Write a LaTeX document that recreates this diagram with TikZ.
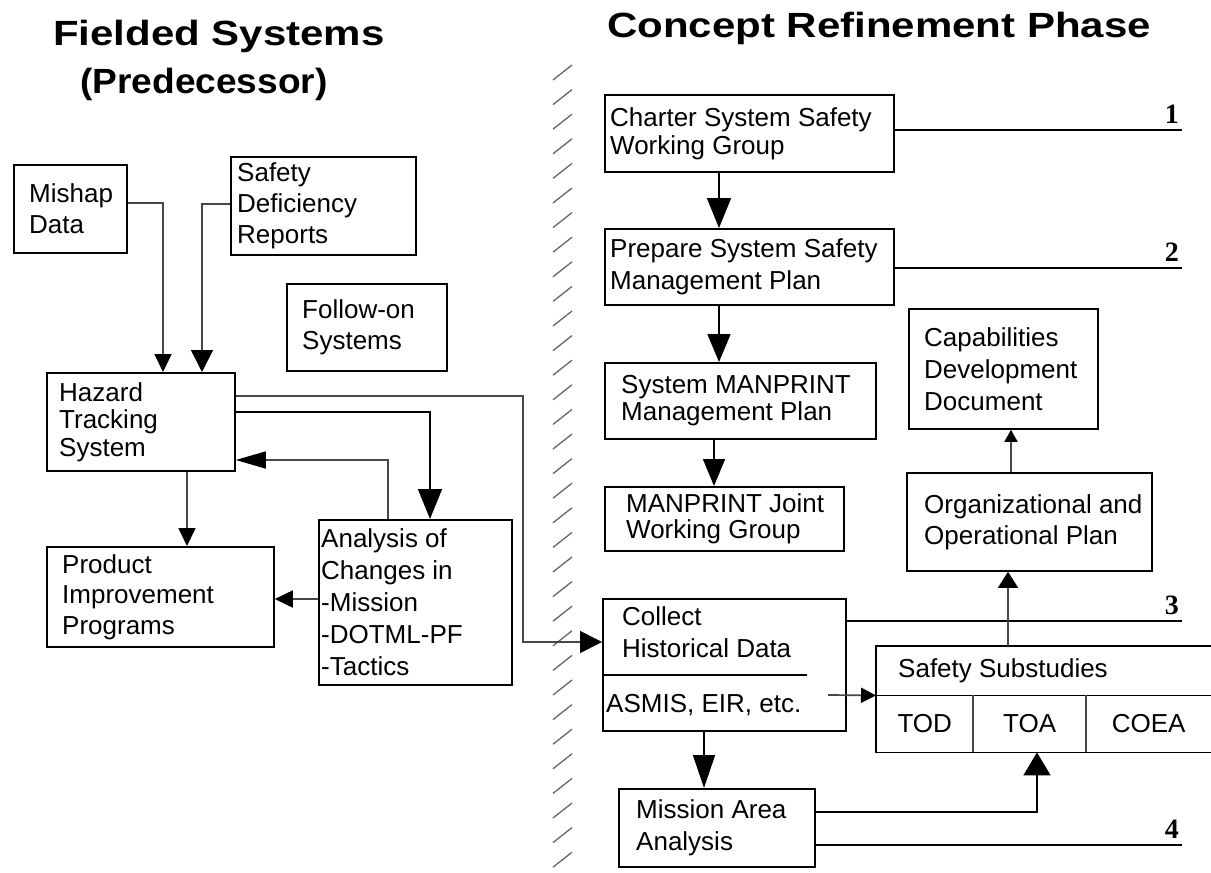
\documentclass[tikz,border=0pt]{standalone}
\usepackage{fontspec}
\setmainfont{Liberation Sans}
\newfontfamily\numfont{Liberation Serif}
\usepackage{graphicx}
\usetikzlibrary{arrows.meta}
\begin{document}
\begin{tikzpicture}[x=1pt,y=-1pt,
  box/.style={draw, line width=1.8pt, anchor=north west, inner sep=0pt},
  cell/.style={anchor=north west, inner sep=0pt, font=\fontsize{26}{31}\selectfont},
  txt/.style={anchor=west, align=left, inner sep=0pt, font=\fontsize{26}{31}\selectfont},
  ttl/.style={anchor=base west, inner sep=0pt, font=\fontsize{35}{40}\selectfont\bfseries},
  numst/.style={anchor=south east, inner sep=0pt, font=\fontsize{28}{30}\selectfont\numfont\bfseries},
  conn/.style={draw=black!72, line width=1.7pt},
  plain/.style={draw=black, line width=1.7pt},
  tipS/.style={-{Triangle[length=18pt,width=17pt,color=black]}},
  tipM/.style={-{Triangle[length=22pt,width=22pt,color=black]}},
  tipL/.style={-{Triangle[length=30pt,width=24pt,color=black]}},
  tipT/.style={-{Triangle[length=12pt,width=13pt,color=black]}},
  hatch/.style={draw=black!60, line width=1.3pt}]
\fill[white] (0,0) rectangle (1211,873);
\useasboundingbox (0,0) rectangle (1211,873);

% titles
\node[ttl] (titleA) at (53,45) {\scalebox{1.2}[1]{Fielded Systems}};
\node[ttl] (titleB) at (80,93) {\scalebox{1.06}[1]{(Predecessor)}};
\node[ttl] (titleC) at (607,37) {\scalebox{1.2}[1]{Concept Refinement Phase}};

% hatched divider
\foreach \i in {0,...,32} \draw[hatch] (553,{80+24.6*\i}) -- ++(19,-15);

% left boxes
\node[box, minimum width=113pt, minimum height=88pt] (mishap) at (13,164) {};
\node[txt] (mishapT) at ([xshift=16pt]mishap.west) {Mishap\\Data};
\node[box, minimum width=185pt, minimum height=98pt] (sdr) at (230,156) {};
\node[txt] (sdrT) at ([xshift=7pt]sdr.west) {Safety\\Deficiency\\Reports};
\node[box, minimum width=160pt, minimum height=87pt] (follow) at (286,283) {};
\node[txt] (followT) at ([xshift=16pt]follow.west) {Follow-on\\Systems};
\node[box, minimum width=188pt, minimum height=98pt] (hazard) at (46,372) {};
\node[txt, font=\fontsize{26}{27.5}\selectfont] (hazardT) at ([xshift=13pt]hazard.west) {Hazard\\Tracking\\System};
\node[box, minimum width=227pt, minimum height=100pt] (product) at (46,546) {};
\node[txt, font=\fontsize{26}{30.5}\selectfont] (productT) at ([xshift=16pt]product.west) {Product\\Improvement\\Programs};
\node[box, minimum width=193pt, minimum height=165pt] (analysis) at (318,519) {};
\node[txt, font=\fontsize{26}{32}\selectfont] (analysisT) at ([xshift=3pt]analysis.west) {Analysis of\\Changes in\\-Mission\\-DOTML-PF\\-Tactics};

% right boxes
\node[box, minimum width=289pt, minimum height=77pt] (charter) at (604,94) {};
\node[txt, font=\fontsize{26}{28}\selectfont] (charterT) at ([xshift=6pt]charter.west) {Charter System Safety\\Working Group};
\node[box, minimum width=289pt, minimum height=76pt] (prepare) at (604,228) {};
\node[txt, font=\fontsize{26}{32}\selectfont] (prepareT) at ([xshift=6pt]prepare.west) {Prepare System Safety\\Management Plan};
\node[box, minimum width=271pt, minimum height=76pt] (sysman) at (604,362) {};
\node[txt, font=\fontsize{26}{27}\selectfont] (sysmanT) at ([xshift=17pt]sysman.west) {System MANPRINT\\Management Plan};
\node[box, minimum width=239pt, minimum height=64pt] (mj) at (604,486) {};
\node[txt, font=\fontsize{26}{26}\selectfont] (mjT) at ([xshift=22pt]mj.west) {MANPRINT Joint\\Working Group};
\node[box, minimum width=189pt, minimum height=120pt] (cap) at (908,308) {};
\node[txt, font=\fontsize{26}{32}\selectfont] (capT) at ([xshift=16pt]cap.west) {Capabilities\\Development\\Document};
\node[box, minimum width=245pt, minimum height=98pt] (org) at (906,472) {};
\node[txt] (orgT) at ([xshift=18pt]org.west) {Organizational and\\Operational Plan};
\node[box, minimum width=243pt, minimum height=132pt] (collect) at (602,598) {};
\node[txt, font=\fontsize{26}{32}\selectfont] (collectT) at (622,632) {Collect\\Historical Data};
\node[txt] (asmis) at (606,705) {ASMIS, EIR, etc.};
\coordinate (cdiv) at (807,675);
\draw[plain] (collect.west |- cdiv) -- (cdiv);
\node[box, minimum width=196pt, minimum height=78pt] (mission) at (618,788) {};
\node[txt, font=\fontsize{26}{32}\selectfont] (missionT) at ([xshift=18pt]mission.west) {Mission Area\\Analysis};

% safety substudies
\node[cell, minimum width=335pt, minimum height=49pt] (sshead) at (876,646) {};
\node[txt] (ssT) at ([xshift=22pt]sshead.west) {Safety Substudies};
\node[cell, minimum width=97pt, minimum height=57pt] (tod) at (876,695) {TOD};
\node[cell, minimum width=113pt, minimum height=57pt] (toa) at (973,695) {TOA};
\node[cell, minimum width=125pt, minimum height=57pt] (coea) at (1086,695) {COEA};
\draw[plain, line width=1.8pt] (sshead.north east) -| (tod.south west) -- (coea.south east);
\draw[plain, line width=1.8pt] (sshead.south west) -- (sshead.south east);
\draw[conn, line width=2pt] (tod.north east) -- (tod.south east);
\draw[conn, line width=2pt] (toa.north east) -- (toa.south east);

% numbered lines
\coordinate (r1) at (1182,130);
\coordinate (r2) at (1182,268);
\coordinate (r3) at (1182,621);
\coordinate (r4) at (1182,845);
\draw[plain] (charter.east |- r1) -- (r1);
\draw[plain] (prepare.east |- r2) -- (r2);
\draw[plain] (collect.east |- r3) -- (r3);
\draw[plain] (mission.east |- r4) -- (r4);
\node[numst] (n1) at (1179,124) {1};
\node[numst] (n2) at (1179,262) {2};
\node[numst] (n3) at (1179,615) {3};
\node[numst] (n4) at (1179,839) {4};

% connectors, left side
\coordinate (m1) at (163,203);
\draw[conn, tipS] (mishap.east |- m1) -| (hazard.north -| m1);
\coordinate (s1) at (202,204);
\draw[conn, tipM] (sdr.west |- s1) -| (hazard.north -| s1);
\coordinate (c1) at (523,396);
\coordinate (c2) at (523,642);
\draw[conn, tipM] (hazard.east |- c1) -- (c1) -- (c2) -- (collect.west |- c2);
\coordinate (a1) at (430,412);
\draw[plain, tipL] (hazard.east |- a1) -| (analysis.north -| a1);
\coordinate (f1) at (388,460);
\draw[conn, -{Triangle[length=30pt,width=17pt,color=black]}] (analysis.north -| f1) |- (hazard.east |- f1);
\coordinate (p1) at (187,500);
\draw[conn, tipS] (hazard.south -| p1) -- (product.north -| p1);
\coordinate (q1) at (300,599);
\draw[conn, tipS] (analysis.west |- q1) -- (product.east |- q1);

% connectors, right side
\coordinate (k1) at (719,200);
\draw[plain, tipL] (charter.south -| k1) -- (prepare.north -| k1);
\draw[plain, -{Triangle[length=28pt,width=23pt]}] (prepare.south -| k1) -- (sysman.north -| k1);
\coordinate (k2) at (714,460);
\draw[plain, -{Triangle[length=27pt,width=22pt]}] (sysman.south -| k2) -- (mj.north -| k2);
\coordinate (k3) at (704,760);
\draw[plain, -{Triangle[length=33pt,width=22pt]}] (collect.south -| k3) -- (mission.north -| k3);
\coordinate (e1) at (828,695);
\draw[conn, -{Triangle[length=15pt,width=15pt,color=black]}] (e1) -- (sshead.south west);
\coordinate (o1) at (1008,600);
\draw[conn, -{Triangle[length=16pt,width=20pt,color=black]}] (sshead.north -| o1) -- (org.south -| o1);
\coordinate (o2) at (1011,450);
\draw[conn, tipT] (org.north -| o2) -- (cap.south -| o2);
\coordinate (t1) at (1037,812);
\draw[plain, -{Triangle[length=23pt,width=27pt]}] (mission.east |- t1) -| (toa.south -| t1);
\end{tikzpicture}
\end{document}
